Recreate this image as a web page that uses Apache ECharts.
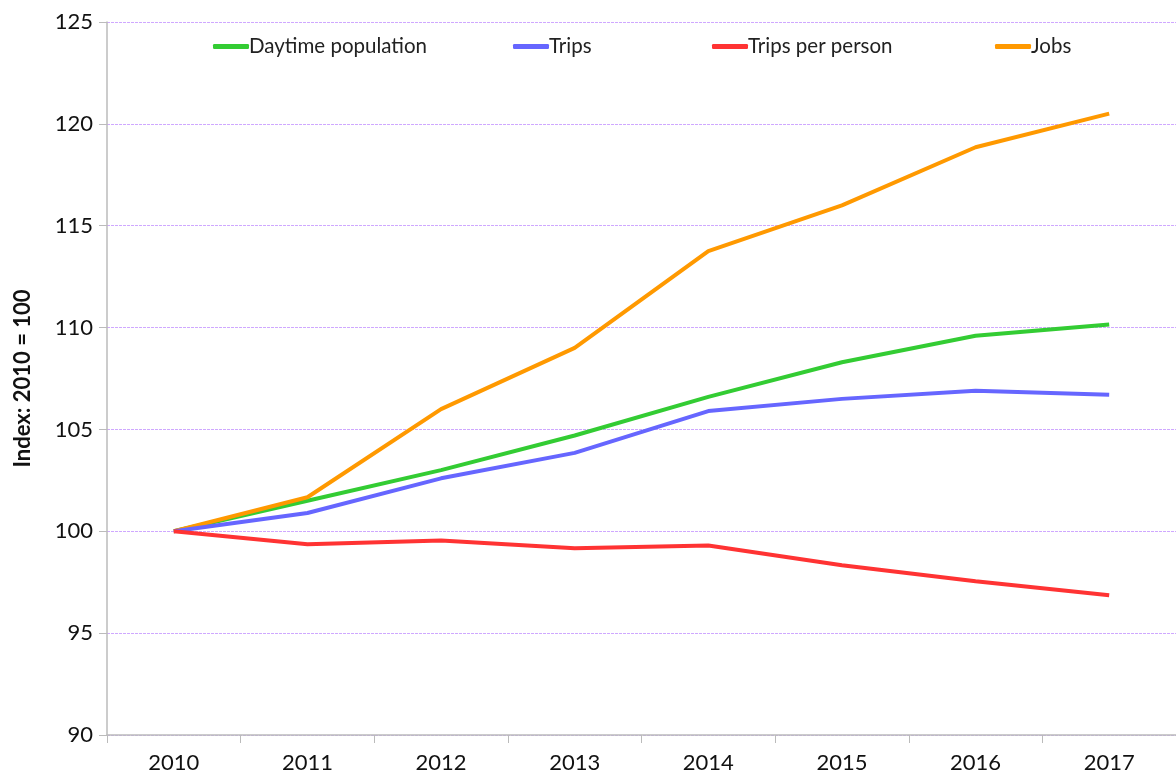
<html>
<head>
    <meta charset="utf-8">
    <title>Index chart</title>
    <script src="https://cdn.jsdelivr.net/npm/echarts@6/dist/echarts.min.js"></script>
    <style>
        html, body { margin: 0; padding: 0; width: 1176px; height: 778px; background: #fff; }
        #main { width: 1176px; height: 778px; }
    </style>
</head>
<body>
    <div id="main"></div>
    <script type="text/javascript">
        // data
        var years = ['2010', '2011', '2012', '2013', '2014', '2015', '2016', '2017'];
        var daytimePopulation = [100, 101.5, 103.0, 104.7, 106.6, 108.3, 109.6, 110.15];
        var trips = [100, 100.9, 102.6, 103.85, 105.9, 106.5, 106.9, 106.7];
        var tripsPerPerson = [100, 99.36, 99.55, 99.17, 99.3, 98.33, 97.55, 96.86];
        var jobs = [100, 101.67, 106.0, 109.0, 113.75, 116.0, 118.85, 120.5];

        var names = ['Daytime population', 'Trips', 'Trips per person', 'Jobs'];
        var colors = ['#33cc33', '#6666ff', '#ff3333', '#ff9900'];
        var legendLeft = [208, 508, 707, 990];

        var myChart = echarts.init(document.getElementById('main'));

        var legends = names.map(function (n, i) {
            return {
                left: legendLeft[i],
                top: 31,
                data: [n],
                icon: 'roundRect',
                itemWidth: 36,
                itemHeight: 5,
                itemGap: 0,
                textStyle: { fontFamily: 'Lato', fontSize: 20.5, color: '#222', padding: [0, 0, 0, -5] }
            };
        });

        var seriesData = [daytimePopulation, trips, tripsPerPerson, jobs];

        var option = {
            animation: false,
            color: colors,
            legend: legends,
            grid: { left: 107, right: 0, top: 22, bottom: 43, containLabel: false },
            xAxis: {
                type: 'category',
                data: years,
                boundaryGap: true,
                axisLine: { lineStyle: { color: '#bbbbbb', width: 1.5 } },
                axisTick: { show: true, length: 8, lineStyle: { color: '#bbbbbb' } },
                axisLabel: { fontFamily: 'Lato', fontSize: 22, color: '#111', margin: 17 }
            },
            yAxis: {
                type: 'value',
                min: 90,
                max: 125,
                interval: 5,
                name: 'Index: 2010 = 100',
                nameLocation: 'middle',
                nameGap: 73,
                nameTextStyle: { fontFamily: 'Lato', fontSize: 22, fontWeight: 'bold', color: '#111' },
                axisLine: { show: true, lineStyle: { color: '#bbbbbb', width: 1.5 } },
                axisTick: { show: true, length: 8, lineStyle: { color: '#bbbbbb' } },
                axisLabel: { fontFamily: 'Lato', fontSize: 22, color: '#111', margin: 14 },
                splitLine: { lineStyle: { color: '#cfa8ff', type: [3, 1], width: 1 } }
            },
            series: names.map(function (n, i) {
                return {
                    name: n,
                    type: 'line',
                    data: seriesData[i],
                    showSymbol: false,
                    symbol: 'none',
                    lineStyle: { width: 4, color: colors[i] },
                    z: 2 + (i === 3 ? 0 : i)
                };
            })
        };
        myChart.setOption(option);
    </script>
</body>
</html>
